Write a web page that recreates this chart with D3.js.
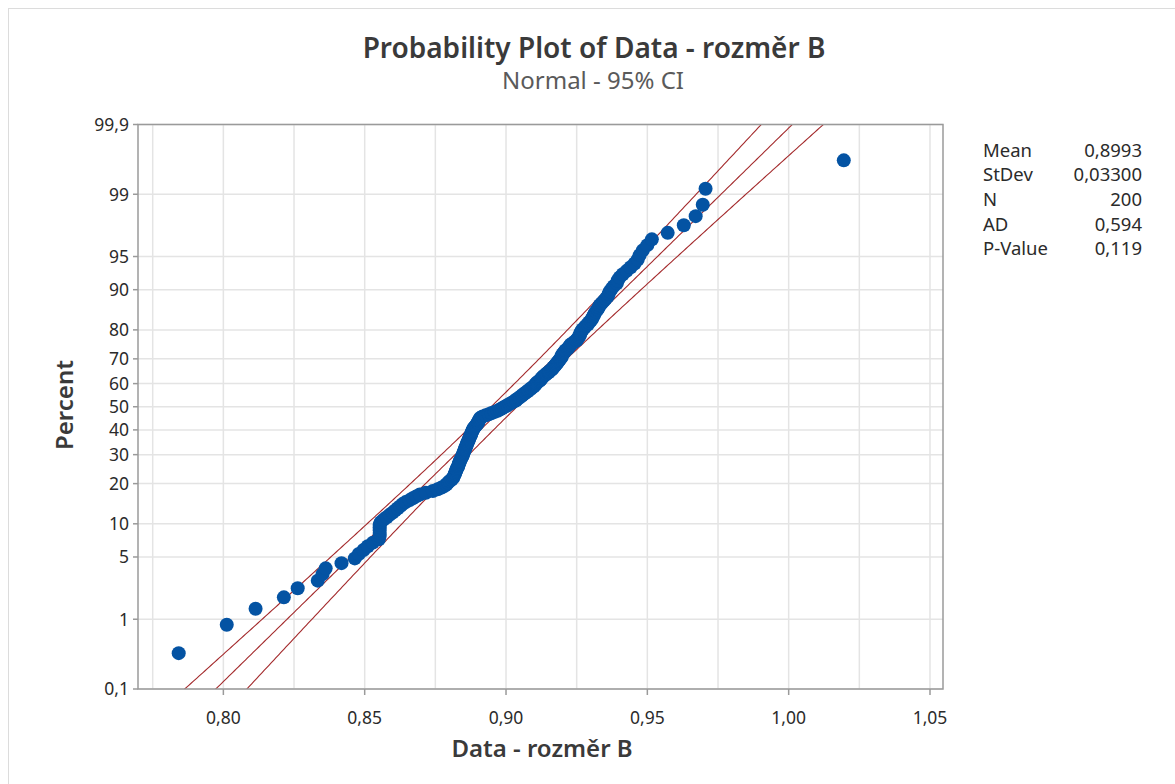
<!DOCTYPE html>
<html>
<head>
<meta charset="utf-8">
<script src="https://cdn.jsdelivr.net/npm/d3@7"></script>
<style>
  html, body { margin: 0; padding: 0; background: #ffffff; }
  svg { display: block; }
  text { font-family: "Noto Sans", "Open Sans", sans-serif; fill: #2b2b2b; }
</style>
</head>
<body>
<svg id="chart" width="1175" height="784"></svg>
<script>
const dataValues = [
  0.7842, 0.8012, 0.8114, 0.8214, 0.8263, 0.8334, 0.8351, 0.8362, 0.8418, 0.8465,
  0.8479, 0.8496, 0.8511, 0.8529, 0.8550, 0.8553, 0.8553, 0.8553, 0.8553, 0.8553,
  0.8557, 0.8567, 0.8578, 0.8588, 0.8599, 0.8608, 0.8617, 0.8626, 0.8634, 0.8645,
  0.8659, 0.8670, 0.8682, 0.8695, 0.8716, 0.8741, 0.8758, 0.8772, 0.8783, 0.8790,
  0.8795, 0.8801, 0.8808, 0.8813, 0.8815, 0.8818, 0.8820, 0.8822, 0.8824, 0.8825,
  0.8829, 0.8831, 0.8832, 0.8834, 0.8836, 0.8838, 0.8840, 0.8843, 0.8845, 0.8847,
  0.8848, 0.8850, 0.8852, 0.8854, 0.8855, 0.8857, 0.8859, 0.8861, 0.8862, 0.8864,
  0.8866, 0.8868, 0.8870, 0.8871, 0.8873, 0.8875, 0.8877, 0.8878, 0.8880, 0.8882,
  0.8884, 0.8886, 0.8889, 0.8893, 0.8896, 0.8900, 0.8901, 0.8903, 0.8905, 0.8907,
  0.8910, 0.8917, 0.8928, 0.8939, 0.8949, 0.8960, 0.8970, 0.8978, 0.8985, 0.8992,
  0.8999, 0.9006, 0.9013, 0.9020, 0.9027, 0.9035, 0.9038, 0.9045, 0.9049, 0.9056,
  0.9059, 0.9066, 0.9070, 0.9077, 0.9080, 0.9087, 0.9091, 0.9098, 0.9101, 0.9105,
  0.9108, 0.9112, 0.9119, 0.9123, 0.9126, 0.9130, 0.9133, 0.9140, 0.9144, 0.9151,
  0.9154, 0.9161, 0.9165, 0.9168, 0.9172, 0.9176, 0.9179, 0.9183, 0.9186, 0.9190,
  0.9193, 0.9197, 0.9197, 0.9200, 0.9204, 0.9207, 0.9211, 0.9218, 0.9222, 0.9225,
  0.9229, 0.9236, 0.9243, 0.9250, 0.9253, 0.9257, 0.9261, 0.9262, 0.9264, 0.9268,
  0.9271, 0.9278, 0.9282, 0.9290, 0.9293, 0.9300, 0.9304, 0.9307, 0.9311, 0.9314,
  0.9318, 0.9324, 0.9328, 0.9332, 0.9339, 0.9346, 0.9353, 0.9360, 0.9363, 0.9367,
  0.9374, 0.9381, 0.9392, 0.9395, 0.9402, 0.9413, 0.9427, 0.9441, 0.9455, 0.9466,
  0.9473, 0.9484, 0.9500, 0.9516, 0.9572, 0.9629, 0.9671, 0.9696, 0.9706, 1.0195
];

// fitted distribution parameters (from the stats box)
const fitMean = 0.8993;
const fitStDev = 0.033;
const sampleN = 200;

// stats box
const statLabels = ["Mean", "StDev", "N", "AD", "P-Value"];
const statValues = ["0,8993", "0,03300", "200", "0,594", "0,119"];

// axis ticks
const percentTicks = [0.1, 1, 5, 10, 20, 30, 40, 50, 60, 70, 80, 90, 95, 99, 99.9];
const percentTickLabels = ["0,1", "1", "5", "10", "20", "30", "40", "50", "60", "70", "80", "90", "95", "99", "99,9"];
const xTicks = [0.80, 0.85, 0.90, 0.95, 1.00, 1.05];
const xTickLabels = ["0,80", "0,85", "0,90", "0,95", "1,00", "1,05"];
const xGrid = [0.775, 0.80, 0.825, 0.85, 0.875, 0.90, 0.925, 0.95, 0.975, 1.00, 1.025, 1.05];

const titleText = "Probability Plot of Data - rozměr B";
const subtitleText = "Normal - 95% CI";
const xTitle = "Data - rozměr B";
const yTitle = "Percent";

// ---- inverse normal CDF (Acklam) ----
function qnorm(p) {
  const a = [-3.969683028665376e+01, 2.209460984245205e+02, -2.759285104469687e+02, 1.383577518672690e+02, -3.066479806614716e+01, 2.506628277459239e+00];
  const b = [-5.447609879822406e+01, 1.615858368580409e+02, -1.556989798598866e+02, 6.680131188771972e+01, -1.328068155288572e+01];
  const c = [-7.784894002430293e-03, -3.223964580411365e-01, -2.400758277161838e+00, -2.549671015819200e+00, 4.374664141464968e+00, 2.938163982698783e+00];
  const d = [7.784695709041462e-03, 3.224671290700398e-01, 2.445134137142996e+00, 3.754408661907416e+00];
  const pl = 0.02425, ph = 1 - pl;
  let q, r;
  if (p < pl) {
    q = Math.sqrt(-2 * Math.log(p));
    return (((((c[0]*q+c[1])*q+c[2])*q+c[3])*q+c[4])*q+c[5]) / ((((d[0]*q+d[1])*q+d[2])*q+d[3])*q+1);
  } else if (p <= ph) {
    q = p - 0.5; r = q * q;
    return (((((a[0]*r+a[1])*r+a[2])*r+a[3])*r+a[4])*r+a[5])*q / (((((b[0]*r+b[1])*r+b[2])*r+b[3])*r+b[4])*r+1);
  } else {
    q = Math.sqrt(-2 * Math.log(1 - p));
    return -(((((c[0]*q+c[1])*q+c[2])*q+c[3])*q+c[4])*q+c[5]) / ((((d[0]*q+d[1])*q+d[2])*q+d[3])*q+1);
  }
}

// ---- layout ----
const L = 138, R = 943, T = 124.5, B = 689;
const svg = d3.select("#chart");

// outer frame
svg.append("rect").attr("x", 8.5).attr("y", 8.5).attr("width", 1175).attr("height", 800)
  .attr("fill", "#fff").attr("stroke", "#dcdcdc").attr("stroke-width", 1);

const zTop = qnorm(0.999);
const x = d3.scaleLinear().domain([0.7698, 1.0546]).range([L, R]);
const y = d3.scaleLinear().domain([-zTop, zTop]).range([B, T]);

// gridlines
const grid = svg.append("g");
grid.selectAll("line.vg").data(xGrid).join("line")
  .attr("x1", d => x(d)).attr("x2", d => x(d)).attr("y1", T).attr("y2", B)
  .attr("stroke", "#e4e4e4").attr("stroke-width", 1.5);
grid.selectAll("line.hg").data(percentTicks).join("line")
  .attr("x1", L).attr("x2", R).attr("y1", d => y(qnorm(d / 100))).attr("y2", d => y(qnorm(d / 100)))
  .attr("stroke", "#e4e4e4").attr("stroke-width", 1.5);

// clip
svg.append("clipPath").attr("id", "clip").append("rect")
  .attr("x", L).attr("y", T).attr("width", R - L).attr("height", B - T);

// fitted line & CI bands
const zs = d3.range(-zTop - 0.2, zTop + 0.2001, 0.02);
const se = z => fitStDev * Math.sqrt(1 / sampleN + z * z / (2 * sampleN));
const fitLine = d3.line().x(z => x(fitMean + z * fitStDev)).y(z => y(z));
const upLine = d3.line().x(z => x(fitMean + z * fitStDev - 1.96 * se(z))).y(z => y(z));
const loLine = d3.line().x(z => x(fitMean + z * fitStDev + 1.96 * se(z))).y(z => y(z));
const lines = svg.append("g").attr("clip-path", "url(#clip)");
[fitLine, upLine, loLine].forEach(gen => {
  lines.append("path").attr("d", gen(zs)).attr("fill", "none")
    .attr("stroke", "#a3292b").attr("stroke-width", 1.1);
});

// points
const pts = dataValues.map((v, i) => ({ v, z: qnorm((i + 1 - 0.3) / (sampleN + 0.4)) }));
svg.append("g").selectAll("circle").data(pts).join("circle")
  .attr("cx", d => x(d.v)).attr("cy", d => y(d.z)).attr("r", 7)
  .attr("fill", "#0453a3");

// axes frame
svg.append("rect").attr("x", L).attr("y", T).attr("width", R - L).attr("height", B - T)
  .attr("fill", "none").attr("stroke", "#9a9a9a").attr("stroke-width", 1.5);

// y axis
const yAxis = svg.append("g");
percentTicks.forEach((p, i) => {
  const yy = y(qnorm(p / 100));
  yAxis.append("line").attr("x1", L - 5).attr("x2", L).attr("y1", yy).attr("y2", yy)
    .attr("stroke", "#9a9a9a").attr("stroke-width", 1.5);
  yAxis.append("text").attr("x", L - 9).attr("y", yy).attr("dy", "0.36em")
    .attr("text-anchor", "end").attr("font-size", 17.5).text(percentTickLabels[i]);
});

// x axis
const xAxis = svg.append("g");
xTicks.forEach((v, i) => {
  const xx = x(v);
  xAxis.append("line").attr("x1", xx).attr("x2", xx).attr("y1", B).attr("y2", B + 6)
    .attr("stroke", "#9a9a9a").attr("stroke-width", 1.5);
  xAxis.append("text").attr("x", xx).attr("y", B + 35)
    .attr("text-anchor", "middle").attr("font-size", 17.5).text(xTickLabels[i]);
});

// titles
svg.append("text").attr("x", 594).attr("y", 58).attr("text-anchor", "middle")
  .attr("font-size", 28).attr("font-weight", 600).style("fill", "#3a3a3a").text(titleText);
svg.append("text").attr("x", 593).attr("y", 89).attr("text-anchor", "middle")
  .attr("font-size", 24).style("fill", "#5a5a5a").text(subtitleText);
svg.append("text").attr("x", 542).attr("y", 757).attr("text-anchor", "middle")
  .attr("font-size", 24).attr("font-weight", 600).style("fill", "#3a3a3a").text(xTitle);
svg.append("text").attr("transform", "translate(73,405) rotate(-90)").attr("text-anchor", "middle")
  .attr("font-size", 24).attr("font-weight", 600).style("fill", "#3a3a3a").text(yTitle);

// stats box
const stats = svg.append("g");
statLabels.forEach((lab, i) => {
  const yy = 156.7 + i * 24.6;
  stats.append("text").attr("x", 983).attr("y", yy).attr("font-size", 18.5).text(lab);
  stats.append("text").attr("x", 1142).attr("y", yy).attr("text-anchor", "end")
    .attr("font-size", 18.5).text(statValues[i]);
});
</script>
</body>
</html>
